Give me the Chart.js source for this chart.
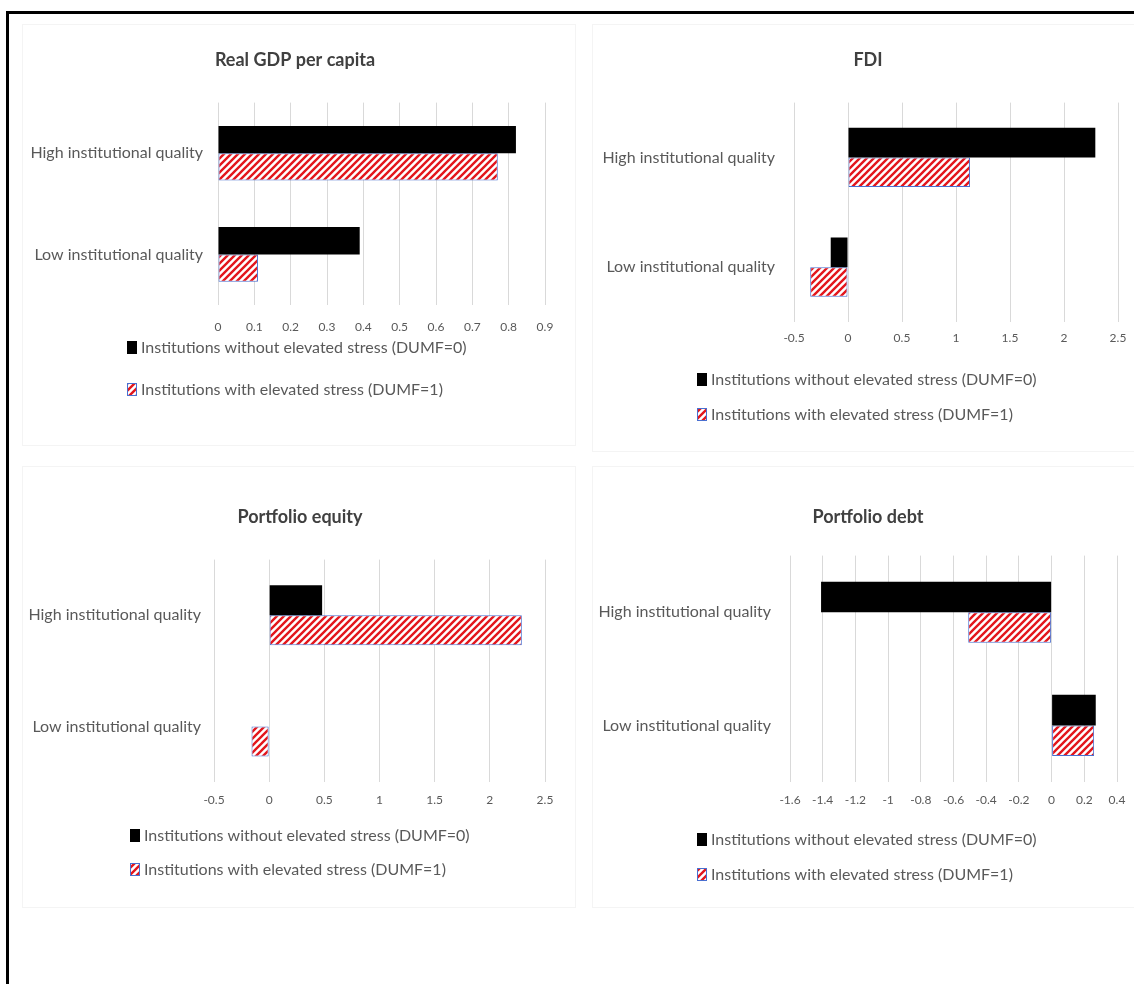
<!DOCTYPE html>
<html>
<head>
<meta charset="utf-8">
<title>Institutional quality and financial stress</title>
<script src="https://cdn.jsdelivr.net/npm/chart.js@4.4.1/dist/chart.umd.min.js"></script>
<style>
	body { margin: 0; background: #fff; }
	#page { position: relative; width: 1134px; height: 984px; overflow: hidden; background: #fff; }
	#frame { position: absolute; left: 6px; top: 11px; width: 1140px; height: 990px; border-top: 3px solid #000; border-left: 3px solid #000; }
	.box { position: absolute; border: 1px solid #f4f4f4; }
	.panel { position: absolute; }
</style>
</head>
<body>
<div id="page">
	<div id="frame"></div>
	<div class="box" style="left:22px; top:24px; width:552px; height:420px"></div>
	<div class="box" style="left:592px; top:24px; width:560px; height:426px"></div>
	<div class="box" style="left:22px; top:466px; width:552px; height:440px"></div>
	<div class="box" style="left:592px; top:466px; width:560px; height:440px"></div>
	<div class="panel" id="p1"><canvas id="c1"></canvas></div>
	<div class="panel" id="p2"><canvas id="c2"></canvas></div>
	<div class="panel" id="p3"><canvas id="c3"></canvas></div>
	<div class="panel" id="p4"><canvas id="c4"></canvas></div>
</div>
<script>
// data
const categories = ['High institutional quality', 'Low institutional quality']
const seriesNames = ['Institutions without elevated stress (DUMF=0)', 'Institutions with elevated stress (DUMF=1)']

const gdpNoStress = [0.82, 0.39]
const gdpStress = [0.77, 0.11]
const gdpTicks = [0, 0.1, 0.2, 0.3, 0.4, 0.5, 0.6, 0.7, 0.8, 0.9]

const fdiNoStress = [2.29, -0.16]
const fdiStress = [1.13, -0.35]
const fdiTicks = [-0.5, 0, 0.5, 1, 1.5, 2, 2.5]

const equityNoStress = [0.48, 0]
const equityStress = [2.29, -0.16]
const equityTicks = [-0.5, 0, 0.5, 1, 1.5, 2, 2.5]

const debtNoStress = [-1.41, 0.27]
const debtStress = [-0.51, 0.26]
const debtTicks = [-1.6, -1.4, -1.2, -1, -0.8, -0.6, -0.4, -0.2, 0, 0.2, 0.4]

// page geometry for each panel (px on the page)
const layouts = {
	p1: {left: 10, top: 25, titleX: 295, titleY: 60, plotL: 218, plotR: 545, plotT: 103, plotB: 305, tickY: 327, yPad: 15, legendX: 127, legendY: 348, legendGap: 42, bottom: 445},
	p2: {left: 580, top: 25, titleX: 868, titleY: 60, plotL: 794, plotR: 1118, plotT: 103, plotB: 322, tickY: 338, yPad: 19, legendX: 697, legendY: 380, legendGap: 35, bottom: 445},
	p3: {left: 10, top: 470, titleX: 300, titleY: 517, plotL: 214, plotR: 545, plotT: 560, plotB: 782, tickY: 800, yPad: 13, legendX: 130, legendY: 836, legendGap: 34, bottom: 920},
	p4: {left: 580, top: 470, titleX: 868, titleY: 517, plotL: 790, plotR: 1117, plotT: 556, plotB: 782, tickY: 800, yPad: 19, legendX: 697, legendY: 840, legendGap: 35, bottom: 920},
}

const FONT = "Lato, 'Open Sans', sans-serif"
const TEXT = '#595959'

function hatch() {
	var c = document.createElement('canvas')
	c.width = 7
	c.height = 7
	var ctx = c.getContext('2d')
	ctx.fillStyle = '#ffffff'
	ctx.fillRect(0, 0, 7, 7)
	ctx.strokeStyle = '#e3161c'
	ctx.lineWidth = 2.4
	ctx.beginPath()
	ctx.moveTo(-1, 8); ctx.lineTo(8, -1)
	ctx.moveTo(-4.5, 4.5); ctx.lineTo(4.5, -4.5)
	ctx.moveTo(2.5, 11.5); ctx.lineTo(11.5, 2.5)
	ctx.stroke()
	return ctx.createPattern(c, 'repeat')
}

// legend entries stacked one under the other, left aligned (Excel style)
const stackedLegend = {
	id: 'stackedLegend',
	afterDraw(chart, args, opts) {
		const ctx = chart.ctx
		ctx.save()
		ctx.font = opts.size + 'px ' + FONT
		ctx.textBaseline = 'middle'
		ctx.textAlign = 'left'
		chart.data.datasets.forEach((ds, i) => {
			const y = opts.y + i * opts.gap
			ctx.fillStyle = ds.backgroundColor
			ctx.fillRect(opts.x, y - 7, 10, 13)
			if (ds.borderWidth) {
				ctx.strokeStyle = ds.borderColor
				ctx.lineWidth = 1
				ctx.strokeRect(opts.x + 0.5, y - 6.5, 9, 12)
			}
			ctx.fillStyle = TEXT
			ctx.fillText(ds.label, opts.x + 14, y)
		})
		ctx.restore()
	}
}

function makeChart(id, title, noStress, stress, ticks) {
	var g = layouts[id]
	// the title is centred on the canvas, so the canvas is 2*(titleX-left) wide
	var width = 2 * (g.titleX - g.left)
	var height = g.bottom - g.top
	var wrap = document.getElementById(id)
	wrap.style.left = g.left + 'px'
	wrap.style.top = g.top + 'px'
	var canvas = document.getElementById(id.replace('p', 'c'))
	canvas.width = width
	canvas.height = height
	canvas.style.width = width + 'px'
	canvas.style.height = height + 'px'

	const titleLH = 22
	const axisH = 34
	const rightW = g.left + width - g.plotR

	return new Chart(canvas, {
		type: 'bar',
		data: {
			labels: categories,
			datasets: [
				{label: seriesNames[0], data: noStress, backgroundColor: '#000000', borderColor: '#000000', borderWidth: 0},
				{label: seriesNames[1], data: stress, backgroundColor: hatch(), borderColor: '#4a6fd0', borderWidth: 1, borderSkipped: false},
			]
		},
		plugins: [stackedLegend],
		options: {
			indexAxis: 'y',
			responsive: false,
			maintainAspectRatio: false,
			animation: false,
			devicePixelRatio: 1,
			categoryPercentage: 0.54,
			barPercentage: 1.0,
			layout: {padding: {left: 0, right: 0, top: 0, bottom: g.bottom - g.plotB - axisH}},
			scales: {
				x: {
					min: ticks[0],
					max: ticks[ticks.length - 1],
					afterBuildTicks: (scale) => { scale.ticks = ticks.map((v) => ({value: v})) },
					afterFit: (scale) => { scale.height = axisH },
					grid: {color: '#d9d9d9', lineWidth: 1, drawTicks: false},
					border: {display: false},
					ticks: {
						padding: g.tickY - g.plotB - 7,
						color: TEXT,
						font: {family: FONT, size: 12},
						maxRotation: 0,
						autoSkip: false,
						callback: (v) => String(+Number(v).toFixed(2)),
					},
				},
				y: {
					afterFit: (scale) => { scale.width = g.plotL - g.left },
					grid: {display: false, drawTicks: false},
					border: {display: false},
					ticks: {padding: g.yPad, color: TEXT, font: {family: FONT, size: 16}},
				},
				// empty spacer on the right so the plot ends where the reference does
				spacer: {
					type: 'linear',
					position: 'right',
					afterFit: (scale) => { scale.width = rightW },
					grid: {display: false, drawTicks: false},
					border: {display: false},
					ticks: {display: false},
				},
			},
			plugins: {
				tooltip: {enabled: false},
				legend: {display: false},
				stackedLegend: {x: g.legendX - g.left, y: g.legendY - g.top, gap: g.legendGap, size: 16},
				title: {
					display: true,
					text: title,
					color: '#404040',
					font: {family: FONT, size: 18, weight: 'bold', lineHeight: 1.2},
					padding: {top: g.titleY - g.top - titleLH / 2, bottom: g.plotT - g.titleY - titleLH / 2},
				},
			},
		},
	})
}

makeChart('p1', 'Real GDP per capita', gdpNoStress, gdpStress, gdpTicks)
makeChart('p2', 'FDI', fdiNoStress, fdiStress, fdiTicks)
makeChart('p3', 'Portfolio equity', equityNoStress, equityStress, equityTicks)
makeChart('p4', 'Portfolio debt', debtNoStress, debtStress, debtTicks)
</script>
</body>
</html>
